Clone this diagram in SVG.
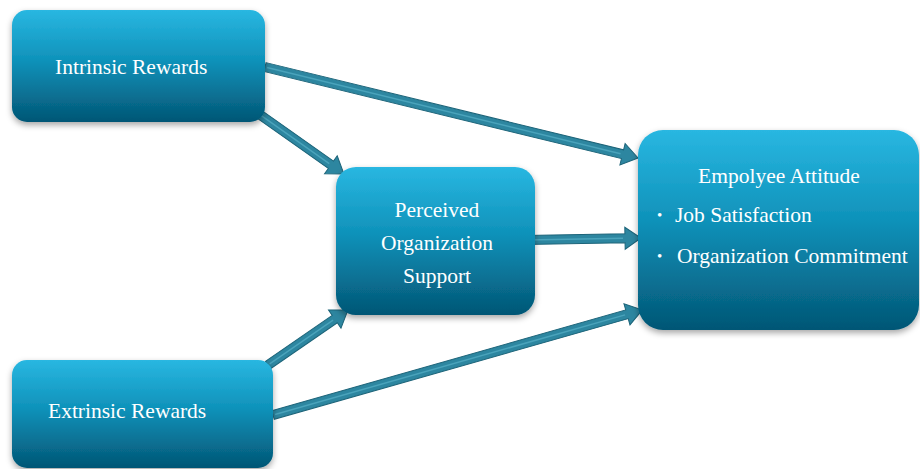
<svg xmlns="http://www.w3.org/2000/svg" width="920" height="469" viewBox="0 0 920 469">
<defs>
<linearGradient id="boxGrad" x1="0" y1="0" x2="0" y2="1">
<stop offset="0" stop-color="#29b7e1"/>
<stop offset="0.45" stop-color="#0f92ba"/>
<stop offset="1" stop-color="#035675"/>
</linearGradient>
<filter id="shadow" x="-10%" y="-10%" width="120%" height="130%">
<feDropShadow dx="0" dy="3" stdDeviation="3" flood-color="#000" flood-opacity="0.35"/>
</filter>
<style>
.box{fill:url(#boxGrad);filter:url(#shadow);}
.lbl{font-family:"Liberation Serif","Times New Roman",serif;font-size:21.5px;fill:#ffffff;}
.bul{font-family:"Liberation Serif","Times New Roman",serif;font-size:15px;fill:#ffffff;}
.arrow{fill:#2d86a0;stroke:#1d6479;stroke-width:1;}
.core{stroke:#4aa3bb;stroke-width:1.5;fill:none;}
</style>
</defs>
<rect width="920" height="469" fill="#ffffff"/>
<g id="connectors">
<g transform="translate(265,67) rotate(13.71)">
<path class="arrow" d="M0,-4.5 L368,-4.5 L368,-11 L384,0 L368,11 L368,4.5 L0,4.5 Z"/>
<line class="core" x1="2" y1="0" x2="366" y2="0"/>
</g>
<g transform="translate(259,114) rotate(35.22)">
<path class="arrow" d="M0,-4.5 L88,-4.5 L88,-11 L104,0 L88,11 L88,4.5 L0,4.5 Z"/>
<line class="core" x1="2" y1="0" x2="86" y2="0"/>
</g>
<g transform="translate(525,240) rotate(-0.99)">
<path class="arrow" d="M0,-4.5 L100,-4.5 L100,-11 L116,0 L100,11 L100,4.5 L0,4.5 Z"/>
<line class="core" x1="2" y1="0" x2="98" y2="0"/>
</g>
<g transform="translate(268,365) rotate(-34.51)">
<path class="arrow" d="M0,-4.5 L81,-4.5 L81,-11 L97,0 L81,11 L81,4.5 L0,4.5 Z"/>
<line class="core" x1="2" y1="0" x2="79" y2="0"/>
</g>
<g transform="translate(273,415) rotate(-15.88)">
<path class="arrow" d="M0,-4.5 L368,-4.5 L368,-11 L384,0 L368,11 L368,4.5 L0,4.5 Z"/>
<line class="core" x1="2" y1="0" x2="366" y2="0"/>
</g>
</g>
<g id="intrinsic">
<rect class="box" x="12" y="10" width="253" height="112" rx="15" ry="15"/>
<text class="lbl" x="55" y="74">Intrinsic Rewards</text>
</g>
<g id="extrinsic">
<rect class="box" x="12" y="360" width="261" height="108" rx="15" ry="15"/>
<text class="lbl" x="48" y="418">Extrinsic Rewards</text>
</g>
<g id="perceived">
<rect class="box" x="336" y="167" width="199" height="148" rx="20" ry="20"/>
<text class="lbl" x="437" y="217" text-anchor="middle">Perceived</text>
<text class="lbl" x="437" y="250" text-anchor="middle">Organization</text>
<text class="lbl" x="437" y="283" text-anchor="middle">Support</text>
</g>
<g id="employee">
<rect class="box" x="638" y="130" width="281" height="200" rx="25" ry="25"/>
<text class="lbl" x="779" y="183" text-anchor="middle">Empolyee Attitude</text>
<text class="bul" x="657" y="220">•</text>
<text class="lbl" x="675" y="222">Job Satisfaction</text>
<text class="bul" x="657" y="261">•</text>
<text class="lbl" x="677" y="263">Organization Commitment</text>
</g>
</svg>
